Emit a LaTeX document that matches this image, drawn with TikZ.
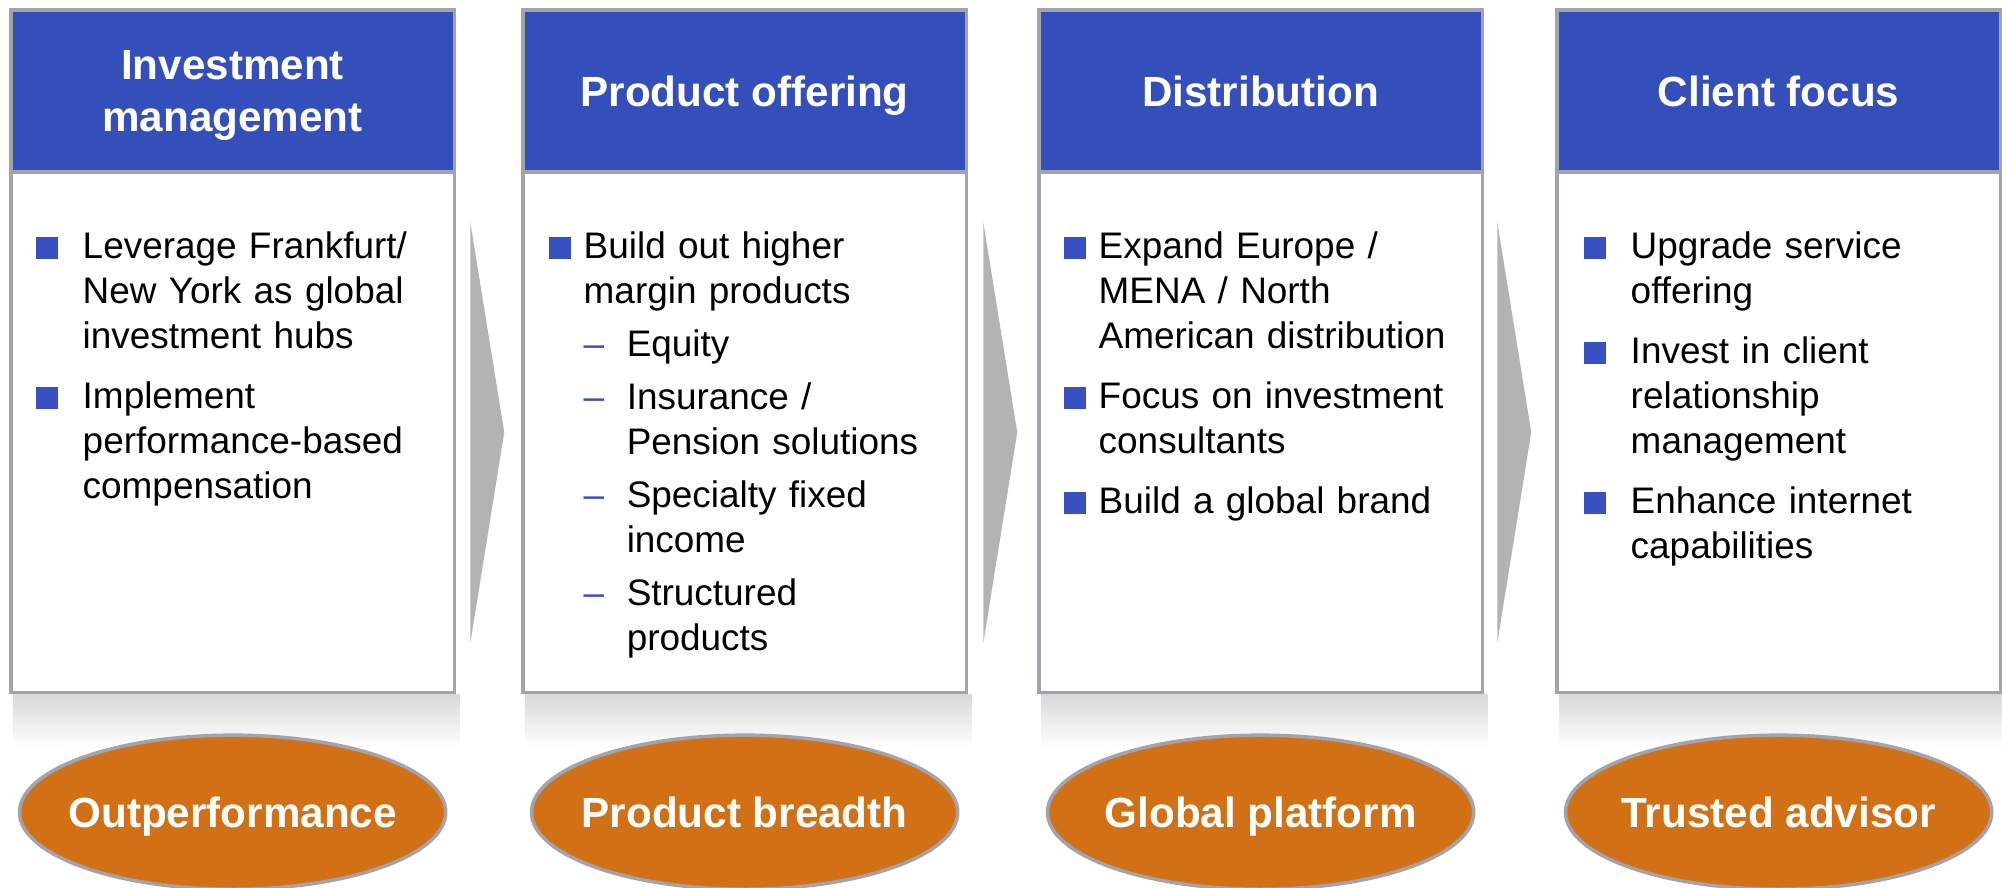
\documentclass[tikz,border=0pt]{standalone}
\usepackage{fontspec}
\setmainfont{Liberation Sans}
\usepackage{enumitem}
\usetikzlibrary{positioning,calc,shapes.geometric}

\definecolor{hdrblue}{RGB}{53,79,186}
\definecolor{bulblue}{RGB}{56,80,192}
\definecolor{framegray}{RGB}{163,163,173}
\definecolor{chevgray}{RGB}{179,179,179}
\definecolor{pillorange}{RGB}{209,112,21}

\newcommand{\sqbul}{\textcolor{bulblue}{\rule{0.22cm}{0.22cm}}}
\newcommand{\subdash}{\textcolor{bulblue}{--}}

\setlist[itemize,1]{label=\sqbul, align=left, leftmargin=0.47cm, labelwidth=0.47cm, labelsep=0pt, labelindent=0pt, itemsep=0.15cm, parsep=0pt, topsep=0pt, partopsep=0pt}
\setlist[itemize,2]{label=\subdash, align=left, leftmargin=0.43cm, labelwidth=0.43cm, labelsep=0pt, labelindent=0pt, itemsep=0.08cm, parsep=0pt, topsep=0.08cm, partopsep=0pt}

\tikzset{
  header/.style={draw=framegray, line width=0.035cm, fill=hdrblue, text=white,
    font=\fontsize{12}{15}\selectfont\bfseries, align=center, text depth=0pt,
    minimum width=4.43cm, minimum height=1.62cm, inner sep=0pt, outer sep=0pt,
    anchor=north west},
  panel/.style={draw=framegray, line width=0.035cm, fill=white,
    minimum width=4.43cm, minimum height=5.20cm, inner sep=0pt, outer sep=0pt},
  listbox/.style={anchor=north west, text width=4.15cm, inner sep=0pt, align=left,
    font=\fontsize{10.5}{12.8}\selectfont},
  shadowbar/.style={top color=black!15, bottom color=white},
  chevron/.style={fill=chevgray},
  pill/.style={ellipse, draw=framegray, line width=0.035cm, fill=pillorange,
    text=white, font=\fontsize{12}{14}\selectfont\bfseries, text depth=0pt,
    minimum width=4.26cm, minimum height=1.54cm, inner xsep=-0.3cm, inner ysep=0pt}
}

\begin{document}
\begin{tikzpicture}[x=0.01cm, y=-0.01cm]
  \useasboundingbox[fill=white] (0,0) rectangle (2002,888);

  % column headers
  \node[header] (h1) at (11,10) {Investment\\management};
  \node[header] (h2) at (523,10) {Product offering};
  \node[header] (h3) at (1039,10) {Distribution};
  \node[header] (h4) at (1557,10) {Client focus};

  % boxes under the headers
  \node[panel, below=0pt of h1] (b1) {};
  \node[panel, below=0pt of h2] (b2) {};
  \node[panel, below=0pt of h3] (b3) {};
  \node[panel, below=0pt of h4] (b4) {};

  % fading shadow under each box
  \shade[shadowbar] ($(b1.south west)+(2,2)$) rectangle ($(b1.south east)+(5,55)$);
  \shade[shadowbar] ($(b2.south west)+(2,2)$) rectangle ($(b2.south east)+(5,55)$);
  \shade[shadowbar] ($(b3.south west)+(2,2)$) rectangle ($(b3.south east)+(5,55)$);
  \shade[shadowbar] ($(b4.south west)+(2,2)$) rectangle ($(b4.south east)+(5,55)$);

  % arrows between the boxes
  \fill[chevron] ($(b1.north east)+(16,50)$) -- ($(b1.east)+(50,0)$) -- ($(b1.south east)+(16,-49)$) -- cycle;
  \fill[chevron] ($(b2.north east)+(17,50)$) -- ($(b2.east)+(51,0)$) -- ($(b2.south east)+(17,-49)$) -- cycle;
  \fill[chevron] ($(b3.north east)+(15,50)$) -- ($(b3.east)+(49,0)$) -- ($(b3.south east)+(15,-49)$) -- cycle;

  % bullet lists
  \node[listbox] (t1) at ($(b1.north west)+(24,41)$) {%
    \begin{itemize}
      \item Leverage Frankfurt/\\New York as global\\investment hubs
      \item Implement\\performance-based\\compensation
    \end{itemize}};
  \node[listbox] (t2) at ($(b2.north west)+(25,41)$) {%
    \begin{itemize}[leftmargin=0.35cm, labelwidth=0.35cm]
      \item Build out higher\\margin products
      \begin{itemize}
        \item Equity
        \item Insurance /\\Pension solutions
        \item Specialty fixed\\income
        \item Structured\\products
      \end{itemize}
    \end{itemize}};
  \node[listbox] (t3) at ($(b3.north west)+(24,41)$) {%
    \begin{itemize}[leftmargin=0.35cm, labelwidth=0.35cm]
      \item Expand Europe /\\MENA / North\\American distribution
      \item Focus on investment\\consultants
      \item Build a global brand
    \end{itemize}};
  \node[listbox] (t4) at ($(b4.north west)+(26,41)$) {%
    \begin{itemize}
      \item Upgrade service\\offering
      \item Invest in client\\relationship\\management
      \item Enhance internet\\capabilities
    \end{itemize}};

  % outcomes
  \node[pill, below=0.41cm of b1] (e1) {Outperformance};
  \node[pill, below=0.41cm of b2] (e2) {Product breadth};
  \node[pill, below=0.41cm of b3] (e3) {Global platform};
  \node[pill, below=0.41cm of b4] (e4) {Trusted advisor};
\end{tikzpicture}
\end{document}
